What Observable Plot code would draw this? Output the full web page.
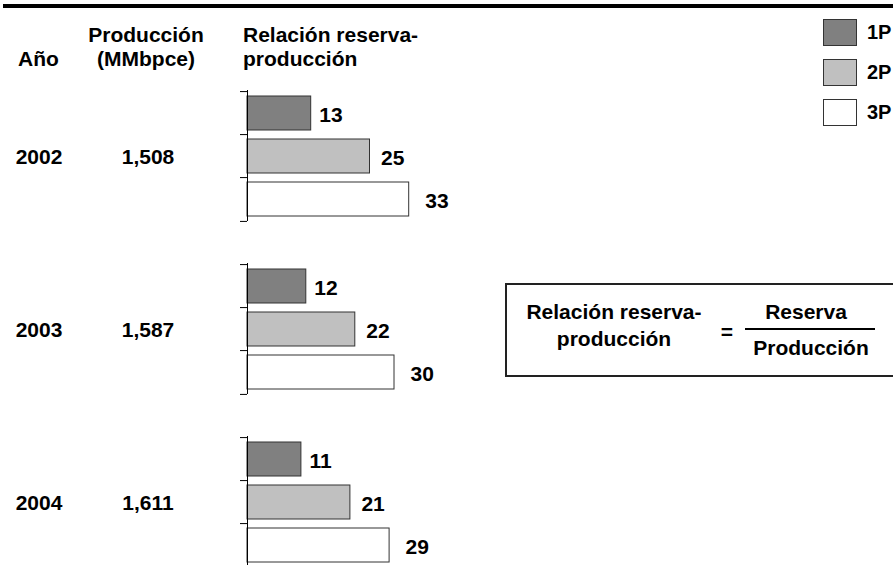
<!DOCTYPE html>
<html>
<head>
<meta charset="utf-8">
<script src="https://cdn.jsdelivr.net/npm/d3@7"></script>
<script src="https://cdn.jsdelivr.net/npm/@observablehq/plot@0.6"></script>
<style>
  html, body { margin: 0; padding: 0; background: #fff; }
  #wrap { position: relative; width: 893px; height: 565px; overflow: hidden;
          font-family: "Liberation Sans", Arial, sans-serif; font-weight: bold; font-size: 21px; color: #000; }
  #chart { position: absolute; left: 0; top: 0; }
  .ov { position: absolute; line-height: 24px; white-space: nowrap; }
  .c { text-align: center; }
  .sw { position: absolute; width: 34px; height: 27px; box-sizing: border-box; border: 1px solid #333; }
  .lg { position: absolute; line-height: 24px; white-space: nowrap; font-size: 20px; }
</style>
</head>
<body>
<div id="wrap">
  <div id="chart"></div>
  <div style="position:absolute;left:3px;top:4px;width:890px;height:4px;background:#000;"></div>
  <div class="ov" style="left:18px;top:47px;">Año</div>
  <div class="ov c" style="left:86px;top:23px;width:120px;">Producción<br>(MMbpce)</div>
  <div class="ov" style="left:243px;top:23px;">Relación reserva-<br>producción</div>
  <div id="legend"></div>
  <div style="position:absolute;left:505px;top:283px;width:420px;height:94px;box-sizing:border-box;border:2px solid #222;"></div>
  <div class="ov c" style="left:514px;top:298px;width:200px;line-height:27px;">Relación reserva-<br>producción</div>
  <div class="ov c" style="left:717px;top:320px;width:20px;">=</div>
  <div class="ov c" style="left:746px;top:300px;width:120px;">Reserva</div>
  <div style="position:absolute;left:745px;top:328px;width:130px;height:2px;background:#000;"></div>
  <div class="ov c" style="left:746px;top:336px;width:130px;">Producción</div>
</div>
<script>
// ---- data ----
const years = [2002, 2003, 2004];
const production = [1508, 1587, 1611];
const series = ["1P", "2P", "3P"];
const ratio1P = [13, 12, 11];
const ratio2P = [25, 22, 21];
const ratio3P = [33, 30, 29];

// ---- styles ----
const fills = ["#808080", "#c0c0c0", "#ffffff"];
const labelDx = [8, 11, 16];

const ratios = [ratio1P, ratio2P, ratio3P];
const rows = [];
years.forEach((y, i) => series.forEach((s, j) => rows.push({year: y, serie: s, value: ratios[j][i]})));
const yearRows = years.map((y, i) => ({year: y, prod: production[i]}));

const H = 565, MT = 90, MB = -2.5;
const fyPadInner = 0.24;
const yPadInner = 0.22, yPadOuter = 0.11;
const facetStep = (H - MT - MB) / (years.length - fyPadInner);
const facetBand = facetStep * (1 - fyPadInner);
const yStep = facetBand / (series.length - yPadInner + 2 * yPadOuter);
const tickLen = 7 / 4.9;

const fmt = d3.format(",");

const chart = Plot.plot({
  width: 893,
  height: H,
  marginTop: MT,
  marginBottom: MB,
  marginLeft: 247,
  marginRight: 156,
  style: {fontFamily: "'Liberation Sans', Arial, sans-serif", fontWeight: "bold", background: "transparent", overflow: "hidden"},
  x: {domain: [0, 100], axis: null},
  y: {domain: series, paddingInner: yPadInner, paddingOuter: yPadOuter, axis: null},
  fy: {domain: years, paddingInner: fyPadInner, paddingOuter: 0, axis: null},
  color: {domain: series, range: fills},
  marks: [
    Plot.barX(rows, {x: "value", y: "serie", fy: "year", fill: "serie", stroke: "#333", strokeWidth: 1}),
    Plot.ruleX([0], {stroke: "#000", strokeWidth: 1}),
    Plot.ruleY(series, {x1: -tickLen, x2: 0, dy: -yStep / 2, stroke: "#000"}),
    Plot.ruleY([series[series.length - 1]], {x1: -tickLen, x2: 0, dy: yStep / 2, stroke: "#000"}),
    ...series.map((s, j) => Plot.text(rows.filter(d => d.serie === s), {
      x: "value", y: "serie", fy: "year", text: d => String(d.value),
      textAnchor: "start", dx: labelDx[j], dy: 2, fontSize: 21, fontWeight: "bold", fill: "#000"
    })),
    Plot.text(yearRows, {fy: "year", text: d => String(d.year), frameAnchor: "left", dx: -208.5, dy: 1,
      textAnchor: "middle", fontSize: 21, fontWeight: "bold", fill: "#000"}),
    Plot.text(yearRows, {fy: "year", text: d => fmt(d.prod), frameAnchor: "left", dx: -99.5, dy: 1,
      textAnchor: "middle", fontSize: 21, fontWeight: "bold", fill: "#000"})
  ]
});
document.getElementById("chart").appendChild(chart);

// legend
const legend = document.getElementById("legend");
series.forEach((s, j) => {
  const sw = document.createElement("div");
  sw.className = "sw";
  sw.style.left = "823px";
  sw.style.top = (19 + 40 * j) + "px";
  sw.style.background = fills[j];
  legend.appendChild(sw);
  const t = document.createElement("div");
  t.className = "lg";
  t.style.left = "867px";
  t.style.top = (20 + 40 * j) + "px";
  t.textContent = s;
  legend.appendChild(t);
});
</script>
</body>
</html>
